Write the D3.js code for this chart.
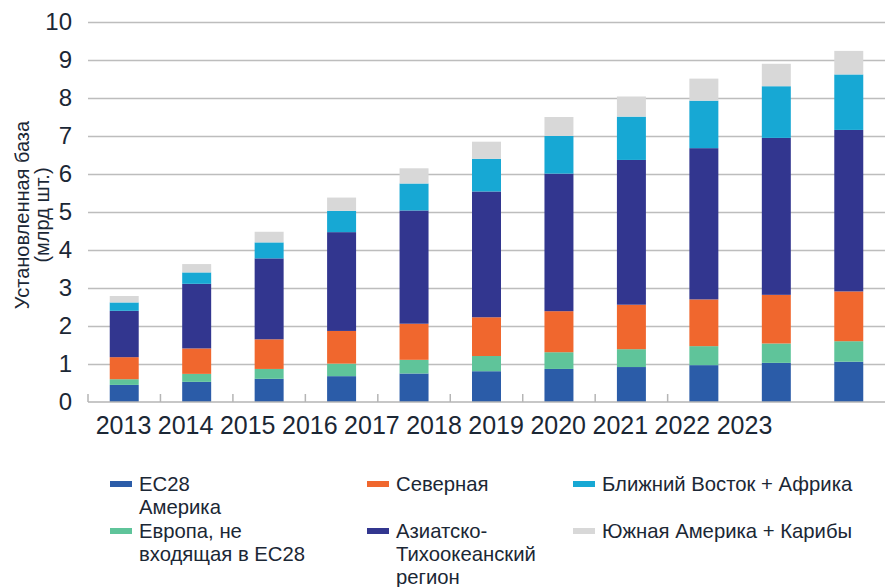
<!DOCTYPE html>
<html><head><meta charset="utf-8">
<script src="https://cdn.jsdelivr.net/npm/d3@7"></script>
<style>
body{margin:0;background:#fff;}
svg{display:block;font-family:"Liberation Sans",Arial,sans-serif;}
</style></head>
<body><svg id="c" width="890" height="587"></svg>
<script>
const years = ["2013","2014","2015","2016","2017","2018","2019","2020","2021","2022","2023"];
const yTicks = [0,1,2,3,4,5,6,7,8,9,10];
const seriesKeys = ["eu28","europeOther","northAmerica","asiaPacific","mea","southAmerica"];
const eu28 =         [0.45,0.53,0.61,0.68,0.75,0.81,0.87,0.92,0.97,1.03,1.06];
const europeOther =  [0.15,0.21,0.26,0.33,0.36,0.40,0.44,0.47,0.50,0.51,0.54];
const northAmerica = [0.58,0.67,0.78,0.86,0.95,1.02,1.08,1.17,1.23,1.28,1.31];
const asiaPacific =  [1.22,1.70,2.13,2.60,2.98,3.31,3.62,3.81,3.98,4.13,4.25];
const mea =          [0.22,0.30,0.42,0.56,0.71,0.86,0.99,1.14,1.25,1.36,1.46];
const southAmerica = [0.17,0.22,0.28,0.35,0.40,0.45,0.50,0.53,0.58,0.59,0.62];
const colors = ["#2b5ca8","#5fc49a","#f0672e","#32368f","#17a8d4","#d8d8d8"];
const legendLabels = [
  ["ЕС28","Америка"],
  ["Европа, не","входящая в ЕС28"],
  ["Северная"],
  ["Азиатско-","Тихоокеанский","регион"],
  ["Ближний Восток + Африка"],
  ["Южная Америка + Карибы"]
];
const legendOrder = [0,1,2,3,4,5];
const yTitle = ["Установленная база","(млрд шт.)"];

const seriesArrays = {eu28,europeOther,northAmerica,asiaPacific,mea,southAmerica};
const table = years.map((yr,i)=>{
  const o={year:yr};
  seriesKeys.forEach(k=>o[k]=seriesArrays[k][i]);
  return o;
});

const svg = d3.select("#c");
const textColor = "#1b2735";
const pLeft=88, pRight=885, pTop=22, pBottom=402;

const y = d3.scaleLinear().domain([0,10]).range([pBottom,pTop]);
const x = d3.scaleBand().domain(years).range([pLeft,pRight]).paddingInner(0.6).paddingOuter(0.3);
const xl = d3.scalePoint().domain(years).range([123,744]);

// gridlines
const grid = svg.append("g").attr("transform",`translate(${pLeft},0)`)
  .call(d3.axisLeft(y).tickValues(yTicks.slice(1)).tickSize(-(pRight-pLeft)).tickFormat(""));
grid.select(".domain").remove();
grid.selectAll("line").attr("stroke","#bdbdbd").attr("stroke-width",1.5);

// y labels
const ya = svg.append("g").attr("transform",`translate(${pLeft},0)`)
  .call(d3.axisLeft(y).tickValues(yTicks).tickSize(0).tickPadding(16));
ya.select(".domain").remove();
ya.selectAll("text").attr("font-size",24).attr("fill",textColor).attr("font-family","Liberation Sans, Arial, sans-serif");

// bars
const stack = d3.stack().keys(seriesKeys)(table);
svg.append("g").selectAll("g").data(stack).join("g")
  .attr("fill",(d,i)=>colors[i])
  .selectAll("rect").data(d=>d).join("rect")
  .attr("x",d=>x(d.data.year))
  .attr("width",x.bandwidth())
  .attr("y",d=>y(d[1]))
  .attr("height",d=>y(d[0])-y(d[1]));

// baseline axis
svg.append("line").attr("x1",pLeft).attr("x2",pRight).attr("y1",pBottom).attr("y2",pBottom)
  .attr("stroke","#b5b5b5").attr("stroke-width",1.5);
const step = x.step();
const tickIdx = d3.range(0,9);
svg.append("g").selectAll("line").data(tickIdx).join("line")
  .attr("x1",i=>pLeft+i*step).attr("x2",i=>pLeft+i*step)
  .attr("y1",pBottom).attr("y2",pBottom-8)
  .attr("stroke","#b5b5b5").attr("stroke-width",1.5);

// x labels
const xa = svg.append("g").attr("transform",`translate(0,${pBottom})`)
  .call(d3.axisBottom(xl).tickSize(0).tickPadding(14));
xa.select(".domain").remove();
xa.selectAll("text").attr("font-size",25).attr("fill",textColor).attr("font-family","Liberation Sans, Arial, sans-serif");

// y title
const yt = svg.append("text").attr("transform","translate(22,215) rotate(-90)")
  .attr("text-anchor","middle").attr("font-size",20).attr("fill",textColor);
yt.selectAll("tspan").data(yTitle).join("tspan")
  .attr("x",0).attr("dy",(d,i)=>i===0?"0.35em":"1.0em").text(d=>d);

// legend
const legPos = [[110,491],[110,538],[367,491],[367,538],[573,491],[573,538]];
const lg = svg.append("g").selectAll("g").data(legendOrder).join("g")
  .attr("transform",i=>`translate(${legPos[i][0]},${legPos[i][1]})`);
lg.append("rect").attr("x",0).attr("y",-10).attr("width",22).attr("height",6).attr("fill",i=>colors[i]);
lg.append("text").attr("x",29).attr("y",0).attr("font-size",20.3).attr("fill",textColor)
  .selectAll("tspan").data(i=>legendLabels[i]).join("tspan")
  .attr("x",29).attr("dy",(d,j)=>j===0?0:23).text(d=>d);
</script></body></html>
